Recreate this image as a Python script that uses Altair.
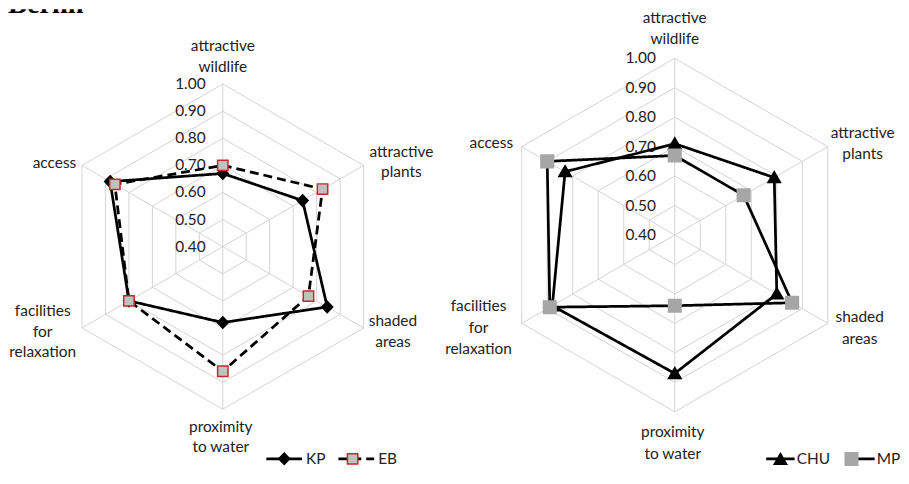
import altair as alt
import pandas as pd

# ---------------- data ----------------
CATEGORIES = ["attractive wildlife", "attractive plants", "shaded areas",
              "proximity to water", "facilities for relaxation", "access"]
CATEGORY_LABELS = ["attractive\nwildlife", "attractive\nplants", "shaded\nareas",
                   "proximity\nto water", "facilities\nfor\nrelaxation", "access"]
TICKS = [0.40, 0.50, 0.60, 0.70, 0.80, 0.90, 1.00]

LEFT_SERIES = ["KP", "EB"]
KP = [0.67, 0.74, 0.845, 0.68, 0.80, 0.88]
EB = [0.70, 0.825, 0.765, 0.86, 0.80, 0.86]

RIGHT_SERIES = ["CHU", "MP"]
CHU = [0.71, 0.79, 0.80, 0.87, 0.88, 0.83]
MP = [0.67, 0.67, 0.86, 0.64, 0.89, 0.90]

TITLE = "Berlin"

# ---------------- style / layout ----------------
FONT = "Lato"
FS = 15.5
TEXT = "#222222"
GRID = "#d4d4d4"
W = 885
H = 458

XS = alt.Scale(domain=[0, W], nice=False, zero=False)
YS = alt.Scale(domain=[0, H], nice=False, zero=False)


def X(f="x"):
    return alt.X(f"{f}:Q", scale=XS, axis=None)


def Y(f="y"):
    return alt.Y(f"{f}:Q", scale=YS, axis=None)


def marker_path(core, half_line):
    # marker outline plus two zero-length end points so that the legend
    # marker entry has the same extent as the line entry
    return f"{core} M{-half_line},0L{-half_line},0 M{half_line},0L{half_line},0"


def radar(names, values, styles, cx, cy, k, label_offsets, line_height,
          tick_dx, legend_x, legend_y, half_line, label_offset, col_pad,
          marker_col_pad):
    """Layers of one radar; cx, cy = centre, k = pixels per unit of value."""
    base = TICKS[0]
    ang = "datum.idx * PI / 3"

    def pos(field="v"):
        return (f"{cx} + {k} * (datum.{field} - {base}) * sin({ang})",
                f"{cy} + {k} * (datum.{field} - {base}) * cos({ang})")

    xexpr, yexpr = pos()

    ring_df = pd.DataFrame([{"v": t, "idx": i} for t in TICKS[1:] for i in range(7)])
    rings = alt.Chart(ring_df).transform_calculate(x=xexpr, y=yexpr).mark_line(
        color=GRID, strokeWidth=1
    ).encode(x=X(), y=Y(), detail="v:N", order="idx:Q")

    n = len(CATEGORIES)
    spoke_df = pd.DataFrame({"idx": list(range(n)), "v": [TICKS[-1]] * n,
                             "v0": [TICKS[0]] * n})
    x0expr, y0expr = pos("v0")
    spokes = alt.Chart(spoke_df).transform_calculate(
        x=xexpr, y=yexpr, x0=x0expr, y0=y0expr
    ).mark_rule(color=GRID, strokeWidth=1).encode(
        x=X("x0"), y=Y("y0"), x2="x:Q", y2="y:Q")

    tick_df = pd.DataFrame({"v": TICKS, "idx": [0] * len(TICKS)})
    ticks = alt.Chart(tick_df).transform_calculate(x=xexpr, y=yexpr).mark_text(
        align="right", baseline="middle", dx=tick_dx, font=FONT, fontSize=FS,
        color=TEXT
    ).encode(x=X(), y=Y(), text=alt.Text("v:Q", format=".2f"))

    cat_df = pd.DataFrame({"idx": list(range(n)), "category": CATEGORIES,
                           "label": CATEGORY_LABELS, "v": [TICKS[-1]] * n})
    cat_layers = []
    for i, (dx, dy) in enumerate(label_offsets):
        cat_layers.append(
            alt.Chart(cat_df).transform_filter(f"datum.idx == {i}")
            .transform_calculate(x=xexpr, y=yexpr)
            .mark_text(align="center", baseline="middle", dx=dx, dy=dy,
                       lineBreak="\n", lineHeight=line_height, font=FONT,
                       fontSize=FS, color=TEXT)
            .encode(x=X(), y=Y(), text="label:N")
        )

    rows = []
    for name, vals in zip(names, values):
        for i, v in enumerate(vals + vals[:1]):
            rows.append({"series": name, "marker": name.lower(), "idx": i, "v": v})
    sdf = pd.DataFrame(rows)
    mnames = [s.lower() for s in names]

    dash_scale = alt.Scale(domain=names, range=[styles[s]["dash"] for s in names])
    shape_scale = alt.Scale(domain=mnames,
                            range=[marker_path(styles[s]["shape"], half_line) for s in names])
    fill_scale = alt.Scale(domain=mnames, range=[styles[s]["fill"] for s in names])
    stroke_scale = alt.Scale(domain=mnames, range=[styles[s]["stroke"] for s in names])

    common_legend = dict(orient="none", legendX=legend_x, legendY=legend_y,
                         direction="horizontal", title=None, padding=0,
                         symbolSize=121, labelFont=FONT, labelFontSize=FS,
                         labelOffset=label_offset, symbolOffset=0)
    line_legend = alt.Legend(symbolType=f"M{-half_line},0H{half_line}",
                             symbolStrokeWidth=2.75, symbolStrokeColor="black",
                             symbolFillColor="transparent", labelColor=TEXT,
                             columnPadding=col_pad, **common_legend)
    mark_legend = alt.Legend(symbolStrokeWidth=1.5, labelExpr="''",
                             columnPadding=marker_col_pad,
                             symbolOpacity=1, **common_legend)

    lines = alt.Chart(sdf).transform_calculate(x=xexpr, y=yexpr).mark_line(
        color="black", strokeWidth=2.75
    ).encode(
        x=X(), y=Y(), detail="series:N", order="idx:Q",
        strokeDash=alt.StrokeDash("series:N", scale=dash_scale, legend=line_legend),
    )
    points = alt.Chart(sdf).transform_filter(f"datum.idx < {n}") \
        .transform_calculate(x=xexpr, y=yexpr).mark_point(
            filled=True, size=121, strokeWidth=1.5, opacity=1
        ).encode(
            x=X(), y=Y(),
            shape=alt.Shape("marker:N", scale=shape_scale, legend=mark_legend),
            fill=alt.Fill("marker:N", scale=fill_scale, legend=mark_legend),
            stroke=alt.Stroke("marker:N", scale=stroke_scale, legend=mark_legend),
        )
    return [rings, spokes, ticks] + cat_layers + [lines, points]


left_styles = {
    "KP": {"dash": [1, 0], "shape": "M0,-1.05L1,0L0,1.05L-1,0Z",
           "fill": "black", "stroke": "black"},
    "EB": {"dash": [9, 5], "shape": "M-0.95,-0.95H0.95V0.95H-0.95Z",
           "fill": "#c0c0c0", "stroke": "#c8282d"},
}
right_styles = {
    "CHU": {"dash": [1, 0], "shape": "M0,-1.1L1.15,0.9L-1.15,0.9Z",
            "fill": "black", "stroke": "black"},
    "MP": {"dash": [1, 0], "shape": "M-1.15,-1.15H1.15V1.15H-1.15Z",
           "fill": "#a6a6a6", "stroke": "#a6a6a6"},
}

left_layers = radar(
    LEFT_SERIES, [KP, EB], left_styles,
    cx=216, cy=H - 238.7, k=272.5,
    label_offsets=[(0, -38), (38, -13.3), (29.5, -6.8), (-2, 17.8), (-39.5, -16.8), (-27.7, -2.7)],
    line_height=20.5, tick_dx=-17.3, legend_x=270, legend_y=444,
    half_line=3.27, label_offset=14.25, col_pad=6.5, marker_col_pad=24.8,
)
right_layers = radar(
    RIGHT_SERIES, [CHU, MP], right_styles,
    cx=670.5, cy=H - 227, k=296.2,
    label_offsets=[(0, -40.6), (35, -13.7), (32, -6.2), (-2, 20.6), (-43.4, -17.2), (-30.6, -3.3)],
    line_height=21.5, tick_dx=-19, legend_x=769, legend_y=444,
    half_line=2.6, label_offset=8.55, col_pad=9.5, marker_col_pad=35.5,
)

title_layer = alt.Chart(pd.DataFrame({"t": [TITLE]})).mark_text(
    clip=True, align="left", baseline="alphabetic", font="Liberation Serif",
    fontWeight="bold", fontSize=28.5, color="black"
).encode(x=alt.value(0), y=alt.value(4), text="t:N")

chart = alt.layer(*left_layers, *right_layers, title_layer).resolve_scale(
    strokeDash="independent", shape="independent", fill="independent",
    stroke="independent",
).resolve_legend(
    strokeDash="independent", shape="independent", fill="independent",
    stroke="independent",
).properties(width=W, height=H, padding=0).configure_view(strokeWidth=0)

chart.save("out.html", embed_options={"renderer": "svg", "actions": False})
